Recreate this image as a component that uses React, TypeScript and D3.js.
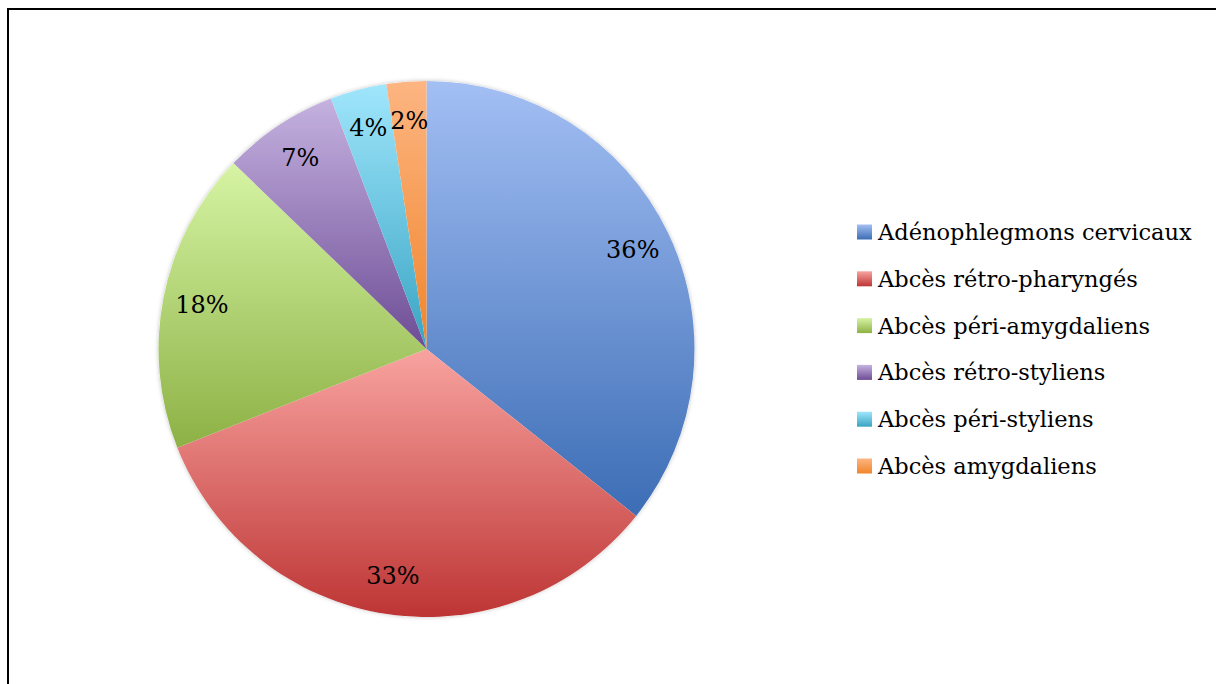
import * as d3 from 'd3';

const categories = [
  'Adénophlegmons cervicaux',
  'Abcès rétro-pharyngés',
  'Abcès péri-amygdaliens',
  'Abcès rétro-styliens',
  'Abcès péri-styliens',
  'Abcès amygdaliens',
];
const values = [35.7, 33.3, 18.2, 7.0, 3.4, 2.4];
const labels = ['36%', '33%', '18%', '7%', '4%', '2%'];

// light (top) / dark (bottom) of each slice gradient
const lightColors = ['#a3bff4', '#f8a3a0', '#d6f4a4', '#c5b2e0', '#a0e6fc', '#fdb582'];
const darkColors = ['#3c6db5', '#bd3534', '#8db145', '#6d4c95', '#38a4c3', '#f0852b'];

const W = 1216;
const H = 684;
const cx = 426.5;
const cy = 349;
const R = 268;
const font = '"DejaVu Serif", serif';

export default function App() {
  const pie = d3.pie<number>().sort(null).value(d => d);
  const arcs = pie(values);
  const arc = d3.arc<d3.PieArcDatum<number>>().innerRadius(0).outerRadius(R);
  const labelArc = d3.arc<d3.PieArcDatum<number>>().innerRadius(229).outerRadius(229);

  const legendX = 857;
  const legendY = d3.scalePoint<number>().domain(d3.range(categories.length)).range([232, 466]);

  return (
    <svg
      width={W}
      height={H}
      style={{ position: 'absolute', left: 0, top: 0, display: 'block' }}
    >
      <defs>
        {categories.map((_, i) => (
          <linearGradient key={i} id={`g${i}`} x1="0" y1="0" x2="0" y2="1">
            <stop offset="0%" stopColor={lightColors[i]} />
            <stop offset="100%" stopColor={darkColors[i]} />
          </linearGradient>
        ))}
        <filter id="shadow" x="-10%" y="-10%" width="120%" height="120%">
          <feDropShadow dx="0" dy="0" stdDeviation="2" floodColor="#000" floodOpacity="0.25" />
        </filter>
      </defs>
      <rect x={0} y={0} width={W} height={H} fill="#fff" />
      <rect x={8} y={9} width={W + 20} height={H + 20} fill="none" stroke="#000" strokeWidth={2} />

      <g transform={`translate(${cx},${cy})`}>
        <circle r={R} fill="#fff" filter="url(#shadow)" />
        {arcs.map((a, i) => (
          <path key={i} d={arc(a) || undefined} fill={`url(#g${i})`} />
        ))}
        {arcs.map((a, i) => {
          const [x, y] = labelArc.centroid(a);
          return (
            <text
              key={i}
              x={x}
              y={y}
              textAnchor="middle"
              dominantBaseline="central"
              fontFamily={font}
              fontSize={24}
              fill="#000"
            >
              {labels[i]}
            </text>
          );
        })}
      </g>

      {categories.map((c, i) => (
        <g key={c} transform={`translate(${legendX},${legendY(i)})`}>
          <rect x={0} y={-7.5} width={15} height={15} fill={`url(#g${i})`} />
          <text x={21} y={0} dominantBaseline="central" fontFamily={font} fontSize={22.5} fill="#000">
            {c}
          </text>
        </g>
      ))}
    </svg>
  );
}
